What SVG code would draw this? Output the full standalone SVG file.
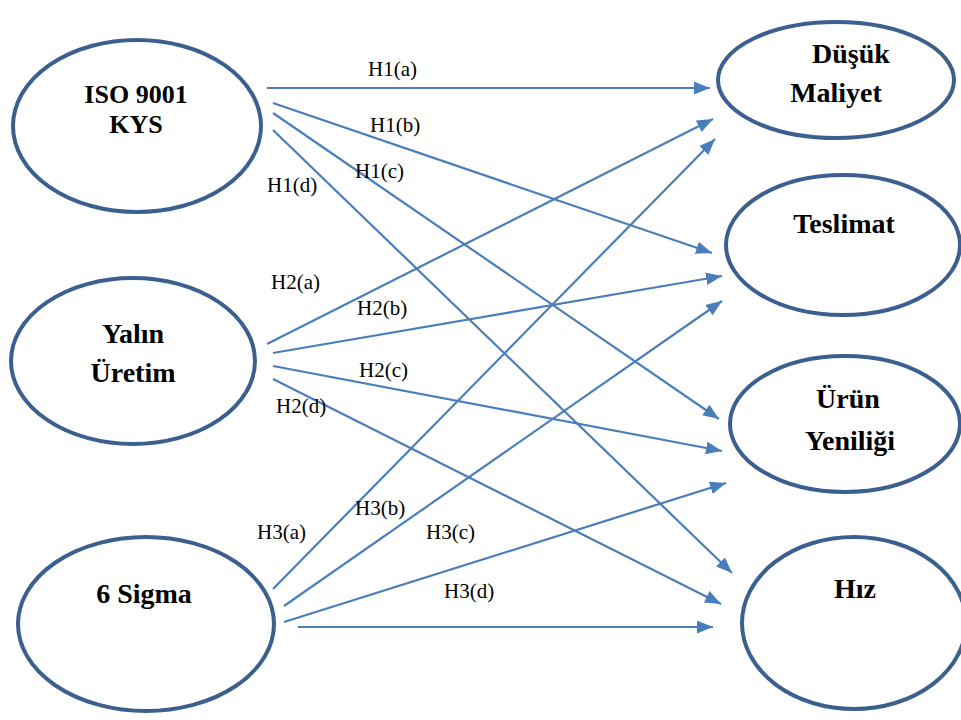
<svg xmlns="http://www.w3.org/2000/svg" width="961" height="720" viewBox="0 0 961 720">
<defs>
<style>
.node ellipse{fill:#ffffff;stroke:#3b5f8e;stroke-width:4}
.nt{font-weight:bold;font-size:28px;fill:#000;text-anchor:middle}
.nt.s{font-size:26px}
.lbl{font-size:21px;fill:#000}
#connectors line{stroke:#4a7ebb;stroke-width:2.2;marker-end:url(#arr)}
</style>
<marker id="arr" viewBox="0 0 10 8" refX="10" refY="4" markerWidth="16" markerHeight="13" markerUnits="userSpaceOnUse" orient="auto">
<path d="M0,0 L10,4 L0,8 Z" fill="#4a7ebb"/>
</marker>
</defs>
<rect width="961" height="720" fill="#ffffff"/>

<g font-family="Liberation Serif, Times New Roman, DejaVu Serif, serif">
<g id="iso" class="node">
<ellipse cx="137" cy="126" rx="124" ry="86"/>
<text class="nt s" x="136" y="103">ISO 9001</text>
<text class="nt s" x="136" y="133">KYS</text>
</g>
<g id="yalin" class="node">
<ellipse cx="133" cy="361" rx="122" ry="83"/>
<text class="nt" x="133" y="343">Yalın</text>
<text class="nt" x="133" y="382">Üretim</text>
</g>
<g id="sigma" class="node">
<ellipse cx="146" cy="624" rx="128" ry="87"/>
<text class="nt" x="144" y="603">6 Sigma</text>
</g>
<g id="maliyet" class="node">
<ellipse cx="836" cy="80" rx="118" ry="58"/>
<text class="nt" x="851" y="63">Düşük</text>
<text class="nt" x="836" y="102">Maliyet</text>
</g>
<g id="teslimat" class="node">
<ellipse cx="843" cy="245" rx="117" ry="70"/>
<text class="nt" x="844" y="233">Teslimat</text>
</g>
<g id="urun" class="node">
<ellipse cx="845" cy="424" rx="115" ry="68"/>
<text class="nt" x="848" y="408">Ürün</text>
<text class="nt" x="850" y="450">Yeniliği</text>
</g>
<g id="hiz" class="node">
<ellipse cx="854" cy="623" rx="112" ry="86"/>
<text class="nt" x="855" y="598">Hız</text>
</g>

<g id="connectors">
<line x1="267" y1="88" x2="710" y2="88"/>
<line x1="273" y1="103" x2="712" y2="253"/>
<line x1="273" y1="113" x2="719" y2="419"/>
<line x1="273" y1="130" x2="732" y2="573"/>
<line x1="267" y1="344" x2="713" y2="119"/>
<line x1="273" y1="353" x2="722" y2="276"/>
<line x1="273" y1="366" x2="722" y2="451"/>
<line x1="273" y1="379" x2="721" y2="604"/>
<line x1="273" y1="589" x2="715" y2="139"/>
<line x1="284" y1="606" x2="722" y2="301"/>
<line x1="284" y1="622" x2="726" y2="483"/>
<line x1="298" y1="627" x2="713" y2="627"/>
</g>

<g id="labels">
<text class="lbl" x="368" y="76">H1(a)</text>
<text class="lbl" x="370" y="132">H1(b)</text>
<text class="lbl" x="355" y="178">H1(c)</text>
<text class="lbl" x="267" y="192">H1(d)</text>
<text class="lbl" x="271" y="289">H2(a)</text>
<text class="lbl" x="357" y="315">H2(b)</text>
<text class="lbl" x="359" y="377">H2(c)</text>
<text class="lbl" x="276" y="413">H2(d)</text>
<text class="lbl" x="257" y="539">H3(a)</text>
<text class="lbl" x="355" y="515">H3(b)</text>
<text class="lbl" x="426" y="539">H3(c)</text>
<text class="lbl" x="444" y="598">H3(d)</text>
</g>
</g>
</svg>
